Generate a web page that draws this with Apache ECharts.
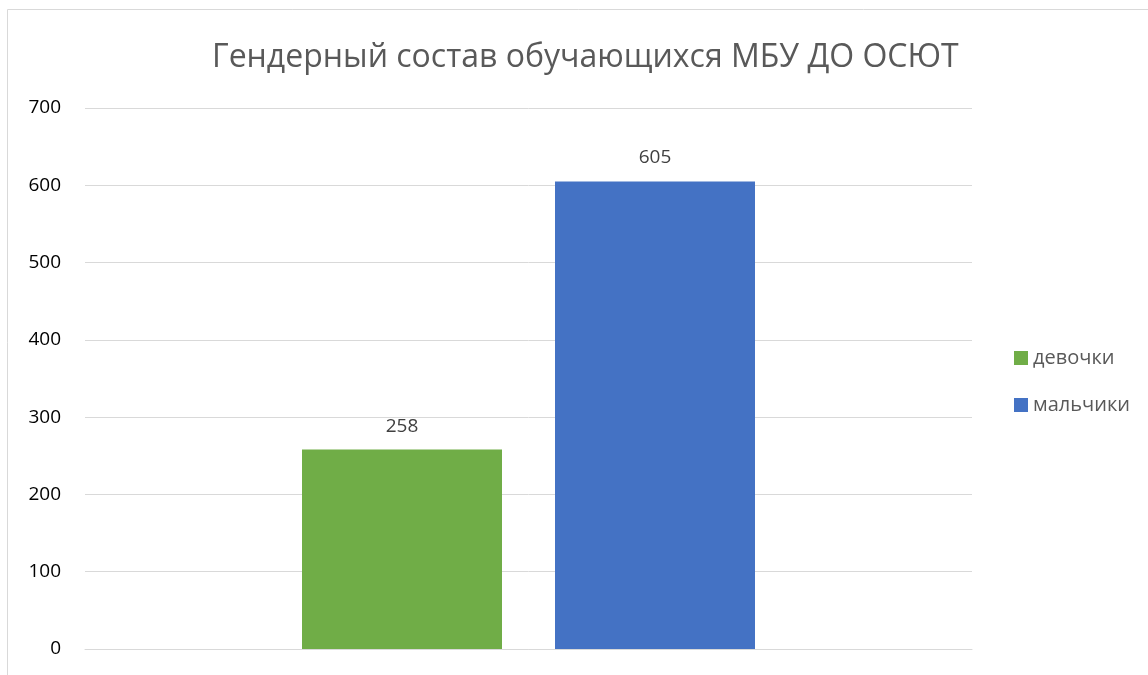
<!DOCTYPE html>
<html><head><meta charset="utf-8">
<script src="https://cdn.jsdelivr.net/npm/echarts@6/dist/echarts.min.js"></script>
<style>html,body{margin:0;padding:0;background:#fff}#c{width:1148px;height:675px}</style>
</head><body><div id="c"></div>
<script>
const titleText = 'Гендерный состав обучающихся МБУ ДО ОСЮТ';
const categories = [''];
const seriesNames = ['девочки', 'мальчики'];
const girls = [258];
const boys = [605];
const colors = ['#70AD47', '#4472C4'];
const font = '"Open Sans", "Noto Sans", sans-serif';

const chart = echarts.init(document.getElementById('c'));
chart.setOption({
  animation: false,
  graphic: [{type:'rect', shape:{x:7.5,y:9.5,width:1200,height:700}, style:{fill:'none', stroke:'#d9d9d9', lineWidth:1}}],
  title: {text: titleText, left: 207, top: 37, textStyle:{fontFamily: font, fontSize: 32, fontWeight:'normal', color:'#595959'}},
  legend: {orient:'vertical', left: 1009, top: 343, itemWidth: 14, itemHeight: 14, itemGap: 27,
    icon:'rect', textStyle:{fontFamily: font, fontSize: 20, color:'#595959'}, data: seriesNames},
  grid: {left: 85, right: 176, top: 108, bottom: 26, containLabel:false},
  xAxis: {type:'category', data: categories, axisLine:{show:true, lineStyle:{color:'#d9d9d9'}}, axisTick:{show:false}, axisLabel:{show:false}},
  yAxis: {type:'value', min:0, max:700, interval:100, axisLine:{show:false}, axisTick:{show:false},
    splitLine:{lineStyle:{color:'#d9d9d9', width:1}},
    axisLabel:{fontFamily: font, fontSize: 19, color:'#000', margin: 24}},
  series: [
    {name: seriesNames[0], type:'bar', data: girls, barWidth: 200, barGap:'26.5%', itemStyle:{color: colors[0]},
     label:{show:true, position:'top', distance: 14, fontFamily: font, fontSize: 19, color:'#404040'}},
    {name: seriesNames[1], type:'bar', data: boys, barWidth: 200, itemStyle:{color: colors[1]},
     label:{show:true, position:'top', distance: 14, fontFamily: font, fontSize: 19, color:'#404040'}}
  ]
});
</script></body></html>
